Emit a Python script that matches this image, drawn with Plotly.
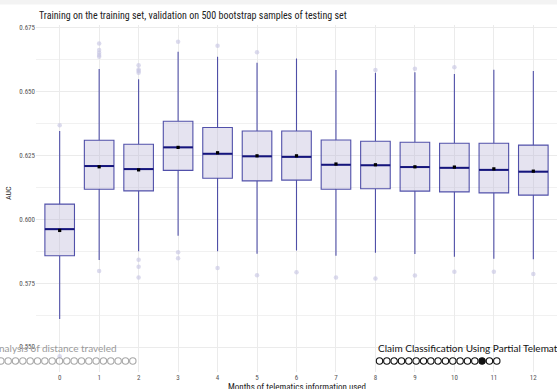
import plotly.graph_objects as go

# ---------------- data ----------------
months = [0, 1, 2, 3, 4, 5, 6, 7, 8, 9, 10, 11, 12]
q1 = [0.5857, 0.6117, 0.6111, 0.6191, 0.6160, 0.6150, 0.6153, 0.6117, 0.6119, 0.6110, 0.6107, 0.6103, 0.6094]
median = [0.5961, 0.6208, 0.6196, 0.6281, 0.6256, 0.6246, 0.6244, 0.6213, 0.6211, 0.6204, 0.6201, 0.6193, 0.6186]
q3 = [0.6059, 0.6309, 0.6293, 0.6383, 0.6359, 0.6345, 0.6345, 0.6310, 0.6305, 0.6301, 0.6297, 0.6297, 0.6290]
lower_whisker = [0.5610, 0.5840, 0.5875, 0.5935, 0.5875, 0.5865, 0.5878, 0.5857, 0.5869, 0.5864, 0.5853, 0.5845, 0.5843]
upper_whisker = [0.6345, 0.6588, 0.6548, 0.6655, 0.6636, 0.6612, 0.6629, 0.6584, 0.6573, 0.6575, 0.6568, 0.6585, 0.6580]
mean_auc = [0.5956, 0.6205, 0.6193, 0.6281, 0.6260, 0.6248, 0.6248, 0.6216, 0.6213, 0.6205, 0.6204, 0.6197, 0.6188]
outlier_month = [0, 0,
                 1, 1, 1, 1, 1, 1,
                 2, 2, 2, 2, 2, 2, 2,
                 3, 3, 3,
                 4, 4,
                 5, 5,
                 6, 7, 8, 8, 9, 9, 10, 10, 11, 12]
outlier_auc = [0.6368, 0.5464,
               0.6687, 0.6662, 0.6651, 0.6642, 0.6636, 0.5797,
               0.6602, 0.6586, 0.6580, 0.6573, 0.5841, 0.5814, 0.5772,
               0.6694, 0.5871, 0.5847,
               0.6679, 0.5809,
               0.6653, 0.5781,
               0.5792, 0.5772, 0.6584, 0.5768, 0.6589, 0.5780, 0.6594, 0.5794, 0.5794, 0.5786]
y_ticks = [0.550, 0.575, 0.600, 0.625, 0.650, 0.675]
title_text = "Training on the training set, validation on 500 bootstrap samples of testing set"
x_title = "Months of telematics information used"
y_title = "AUC"
nav_left_text = "analysis of distance traveled"
nav_right_text = "Claim Classification Using Partial Telematics"
nav_left_count = 19
nav_right_count = 17
nav_right_active = 14

# ---------------- layout geometry ----------------
W, H = 557, 389
ML, MR, MT, MB = 36, 0, 25, 17
PW, PH = W - ML - MR, H - MT - MB
BOX_W = 0.75

def px2x(px):
    return (px - ML) / PW

def py2y(py):
    return 1 - (py - MT) / PH

FONT = "Roboto Condensed, Liberation Sans Narrow, DejaVu Sans Condensed, Roboto"
NAVFONT = "Lato, Open Sans, sans-serif"

fig = go.Figure()

fig.add_trace(go.Box(
    x=months, q1=q1, median=median, q3=q3,
    lowerfence=lower_whisker, upperfence=upper_whisker,
    width=BOX_W, whiskerwidth=0,
    fillcolor="rgba(180,175,212,0.35)",
    line=dict(color="rgba(40,40,150,0.8)", width=1.1),
    boxpoints=False, showlegend=False, hoverinfo="skip",
))

# median emphasised lines
mx, my = [], []
for m, md in zip(months, median):
    mx += [m - BOX_W / 2, m + BOX_W / 2, None]
    my += [md, md, None]
fig.add_trace(go.Scatter(x=mx, y=my, mode="lines",
                         line=dict(color="#15157c", width=2),
                         showlegend=False, hoverinfo="skip"))

fig.add_trace(go.Scatter(x=outlier_month, y=outlier_auc, mode="markers",
                         marker=dict(color="rgba(200,198,228,0.65)", size=4.5),
                         showlegend=False, hoverinfo="skip"))

fig.add_trace(go.Scatter(x=months, y=mean_auc, mode="markers",
                         marker=dict(color="black", size=3.2, symbol="square"),
                         showlegend=False, hoverinfo="skip"))

top_v = 0.675 + (27.5 - MT) / 2556
bot_v = 0.550 - (MT + PH - 347) / 2556

fig.update_layout(
    width=W, height=H,
    margin=dict(l=ML, r=MR, t=MT, b=MB, pad=0),
    paper_bgcolor="white", plot_bgcolor="white",
    font=dict(family=FONT, size=9, color="#222"),
    xaxis=dict(range=[-0.6, 12.6], tickmode="array", tickvals=months,
               ticktext=[str(m) for m in months],
               showgrid=True, gridcolor="#ebebeb", gridwidth=1,
               zeroline=False, showline=False, ticks="",
               tickfont=dict(size=7, color="#555", family=FONT)),
    yaxis=dict(range=[bot_v, top_v], tickmode="array", tickvals=y_ticks,
               ticktext=[f"{v:.3f}" for v in y_ticks],
               showgrid=True, gridcolor="#ebebeb", gridwidth=1,
               minor=dict(tickvals=[v + 0.0125 for v in y_ticks[:-1]],
                          showgrid=True, gridcolor="#f1f1f1", gridwidth=1),
               zeroline=False, showline=False, ticks="",
               tickfont=dict(size=7, color="#555", family=FONT)),
)

shapes = [dict(type="rect", xref="paper", yref="paper",
               x0=px2x(0), x1=px2x(W), y0=py2y(0), y1=py2y(4.5),
               fillcolor="#f3f3f3", line=dict(width=0), layer="below")]

R = 3.2
STEP = 7.33
# left nav circles (ending at x~136)
for i in range(nav_left_count):
    cx = 132.8 - (nav_left_count - 1 - i) * STEP
    shapes.append(dict(type="circle", xref="paper", yref="paper",
                       x0=px2x(cx - R), x1=px2x(cx + R),
                       y0=py2y(361 + R), y1=py2y(361 - R),
                       line=dict(color="#a8a8a8", width=1.1), fillcolor="rgba(0,0,0,0)"))
for i in range(nav_right_count):
    cx = 379.5 + i * STEP
    filled = (i == nav_right_active)
    shapes.append(dict(type="circle", xref="paper", yref="paper",
                       x0=px2x(cx - R), x1=px2x(cx + R),
                       y0=py2y(361 + R), y1=py2y(361 - R),
                       line=dict(color="#111", width=1.1),
                       fillcolor="#111" if filled else "rgba(0,0,0,0)"))
fig.update_layout(shapes=shapes)

annotations = [
    dict(text=title_text, xref="paper", yref="paper", x=px2x(37), y=py2y(15.5),
         xanchor="left", yanchor="middle", showarrow=False,
         font=dict(family=FONT, size=10, color="#222")),
    dict(text=y_title, xref="paper", yref="paper", x=px2x(8), y=py2y(193),
         xanchor="center", yanchor="middle", textangle=-90, showarrow=False,
         font=dict(family=FONT, size=8, color="#222")),
    dict(text=x_title, xref="paper", yref="paper", x=px2x(296.5), y=py2y(386.5),
         xanchor="center", yanchor="middle", showarrow=False,
         font=dict(family=FONT, size=9, color="#222")),
    dict(text=nav_left_text, xref="paper", yref="paper", x=px2x(118.5), y=py2y(348),
         xanchor="right", yanchor="middle", showarrow=False,
         font=dict(family=NAVFONT, size=10, color="#9a9a9a")),
    dict(text=nav_right_text, xref="paper", yref="paper", x=px2x(376), y=py2y(348),
         xanchor="left", yanchor="middle", showarrow=False,
         font=dict(family=NAVFONT, size=10, color="#111")),
]
fig.update_layout(annotations=annotations)

fig.write_html("out.html")
